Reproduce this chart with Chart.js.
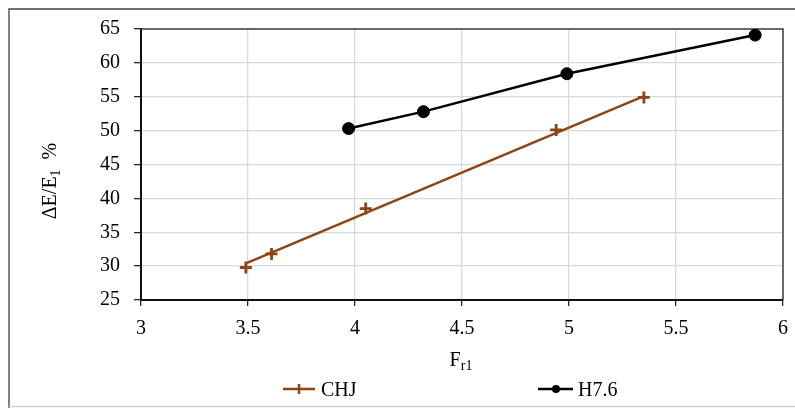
<!DOCTYPE html>
<html>
<head>
<meta charset="utf-8">
<script src="https://cdn.jsdelivr.net/npm/chart.js@4"></script>
<style>
    html, body { margin: 0; padding: 0; background: #fff; }
    #wrap { position: relative; width: 795px; height: 408px; }
</style>
</head>
<body>
<div id="wrap"><canvas id="chart"></canvas></div>
<script>
// values
const chjX = [3.49, 3.61, 4.05, 4.94, 5.35];
const chjY = [29.8, 31.8, 38.5, 50.1, 54.9];
// linear trendline drawn through CHJ (endpoints)
const trendX = [3.49, 5.35];
const trendY = [30.4, 55.1];
const h76X = [3.97, 4.32, 4.99, 5.87];
const h76Y = [50.3, 52.8, 58.4, 64.1];
const xTicks = [3, 3.5, 4, 4.5, 5, 5.5, 6];
const yTicks = [25, 30, 35, 40, 45, 50, 55, 60, 65];
const seriesNames = ["CHJ", "H7.6"];

const FONT = "'Liberation Serif', 'Times New Roman', serif";
const BROWN = "#8f4513";

function pairs(xs, ys) {
    return xs.map((x, i) => ({ x: x, y: ys[i] }));
}

// frame, plot border, axis titles with subscripts, legend
const decor = {
    id: "decor",
    beforeDraw(chart) {
        const c = chart.ctx;
        c.save();
        c.fillStyle = "#fff";
        c.fillRect(0, 0, chart.width, chart.height);
        c.strokeStyle = "#404040";
        c.lineWidth = 1.3;
        c.beginPath();
        c.moveTo(9, chart.height);
        c.lineTo(9, 9);
        c.lineTo(chart.width, 9);
        c.stroke();
        c.strokeStyle = "#d0d0d0";
        c.beginPath();
        c.moveTo(9, 406.5);
        c.lineTo(chart.width, 406.5);
        c.stroke();
        c.restore();
    },
    beforeDatasetsDraw(chart) {
        const a = chart.chartArea;
        const c = chart.ctx;
        c.save();
        c.strokeStyle = "#404040";
        c.lineWidth = 1.5;
        c.beginPath();
        c.moveTo(a.left, a.top);
        c.lineTo(a.right, a.top);
        c.lineTo(a.right, a.bottom);
        c.stroke();
        c.restore();
    },
    afterDraw(chart) {
        const c = chart.ctx;
        c.save();
        c.fillStyle = "#000";
        c.textBaseline = "alphabetic";
        c.textAlign = "left";

        // y title: ΔE/E1 %
        const big = "20px " + FONT, small = "14px " + FONT;
        c.font = big;
        const w1 = c.measureText("\u0394E/E").width;
        const w3 = c.measureText("  %").width;
        c.font = small;
        const w2 = c.measureText("1").width;
        const total = w1 + w2 + w3;
        c.translate(56, 181);
        c.rotate(-Math.PI / 2);
        let x = -total / 2;
        c.font = big;
        c.fillText("\u0394E/E", x, 0);
        x += w1;
        c.font = small;
        c.fillText("1", x, 4);
        x += w2;
        c.font = big;
        c.fillText("  %", x, 0);
        c.setTransform(1, 0, 0, 1, 0, 0);

        // x title: Fr1
        c.font = big;
        const fw = c.measureText("F").width;
        c.font = small;
        const sw = c.measureText("r1").width;
        let fx = 461 - (fw + sw) / 2;
        c.font = big;
        c.fillText("F", fx, 366);
        c.font = small;
        c.fillText("r1", fx + fw, 370);

        // legend
        c.lineWidth = 2.5;
        c.strokeStyle = BROWN;
        c.beginPath();
        c.moveTo(283, 389);
        c.lineTo(315, 389);
        c.moveTo(299, 384);
        c.lineTo(299, 394);
        c.stroke();
        c.strokeStyle = "#000";
        c.beginPath();
        c.moveTo(538, 389);
        c.lineTo(573, 389);
        c.stroke();
        c.beginPath();
        c.arc(556, 389, 4, 0, Math.PI * 2);
        c.fill();
        c.font = "20px " + FONT;
        c.fillText(seriesNames[0], 321, 396);
        c.fillText(seriesNames[1], 578, 396);
        c.restore();
    }
};

const ctx = document.getElementById("chart").getContext("2d");

const chart = new Chart(ctx, {
    type: "scatter",
    data: {
        datasets: [
            {
                label: seriesNames[0] + " trend",
                data: pairs(trendX, trendY),
                showLine: true,
                borderColor: BROWN,
                borderWidth: 2.5,
                pointRadius: 0,
            },
            {
                label: seriesNames[0],
                data: pairs(chjX, chjY),
                showLine: false,
                pointStyle: "cross",
                pointRadius: 6,
                borderColor: BROWN,
                backgroundColor: BROWN,
                pointBorderWidth: 2.8,
            },
            {
                label: seriesNames[1],
                data: pairs(h76X, h76Y),
                showLine: true,
                borderColor: "#000",
                backgroundColor: "#000",
                borderWidth: 2.5,
                pointStyle: "circle",
                pointRadius: 6,
                pointBorderWidth: 1,
            },
        ],
    },
    options: {
        responsive: true,
        maintainAspectRatio: false,
        animation: false,
        layout: { padding: { top: 29, right: 12, left: 0, bottom: 0 } },
        plugins: {
            legend: { display: false },
            tooltip: { enabled: false },
        },
        scales: {
            x: {
                type: "linear",
                min: 3,
                max: 6,
                afterBuildTicks: (axis) => { axis.ticks = xTicks.map(v => ({ value: v })); },
                afterFit: (axis) => {
                    axis.height = 108;
                    axis.paddingLeft = 0;
                    axis.paddingRight = 0;
                },
                grid: {
                    color: "#d9d9d9",
                    lineWidth: 1.3,
                    tickColor: "#262626",
                    tickLength: 6,
                    tickWidth: 1.3,
                },
                border: { color: "#111", width: 2 },
                ticks: {
                    color: "#000",
                    font: { family: FONT, size: 20 },
                    padding: 11,
                    callback: (v) => String(v),
                },
            },
            y: {
                min: 25,
                max: 65,
                afterBuildTicks: (axis) => { axis.ticks = yTicks.map(v => ({ value: v })); },
                afterFit: (axis) => { axis.width = 141; },
                grid: {
                    color: "#d9d9d9",
                    lineWidth: 1.3,
                    tickColor: "#262626",
                    tickLength: 7,
                    tickWidth: 1.3,
                },
                border: { color: "#111", width: 2 },
                ticks: {
                    color: "#000",
                    font: { family: FONT, size: 20 },
                    padding: 14,
                    callback: (v) => String(v),
                },
            },
        },
    },
    plugins: [decor],
});
</script>
</body>
</html>
